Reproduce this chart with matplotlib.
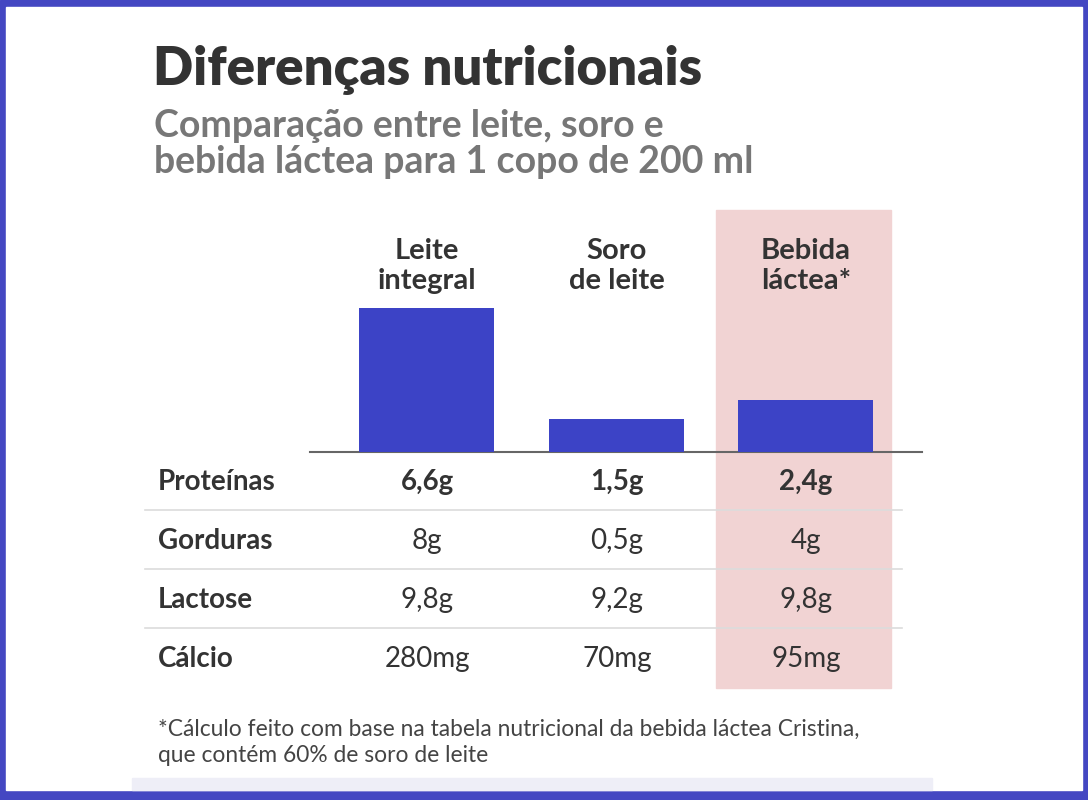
import matplotlib.pyplot as plt
from matplotlib.patches import Rectangle

plt.rcParams['font.family'] = ['Lato', 'DejaVu Sans']

# data
drinks = [['Leite', 'integral'], ['Soro', 'de leite'], ['Bebida', 'láctea*']]
proteinas = [6.6, 1.5, 2.4]
rows = ['Proteínas', 'Gorduras', 'Lactose', 'Cálcio']
table = [
    ['6,6g', '1,5g', '2,4g'],
    ['8g', '0,5g', '4g'],
    ['9,8g', '9,2g', '9,8g'],
    ['280mg', '70mg', '95mg'],
]
title = 'Diferenças nutricionais'
subtitle = ['Comparação entre leite, soro e', 'bebida láctea para 1 copo de 200 ml']
note = ['*Cálculo feito com base na tabela nutricional da bebida láctea Cristina,',
        'que contém 60% de soro de leite']

BLUE = '#3c43c6'
FRAME = '#4447c2'
PINK = '#f1d3d3'
DARK = '#333333'

W, H = 1088, 800
fig = plt.figure(figsize=(W / 100, H / 100), dpi=100)

# background in pixel coords
bg = fig.add_axes([0, 0, 1, 1])
bg.set_xlim(0, W)
bg.set_ylim(H, 0)
bg.axis('off')
bg.add_patch(Rectangle((0, 0), W, H, color=FRAME, zorder=0))
bg.add_patch(Rectangle((6, 7), W - 12, 783, color='white', zorder=1))
bg.add_patch(Rectangle((132, 778), 800, 12, color='#eeeef7', zorder=1))
# highlight for the blended drink
bg.add_patch(Rectangle((716, 210), 175, 478, color=PINK, zorder=2))

bg.text(153, 70, title, fontsize=38, fontweight='heavy', color=DARK,
        va='center', ha='left', zorder=5)
for y, line in zip([126, 162], subtitle):
    bg.text(154, y, line, fontsize=27, fontweight='bold', color='#777777',
            va='center', ha='left', zorder=5)

col_x = [427, 617, 806]
for x, name in zip(col_x, drinks):
    for y, line in zip([251, 281], name):
        bg.text(x, y, line, fontsize=21, fontweight='bold', color=DARK,
                ha='center', va='center', zorder=5)

row_y = [482, 541, 600, 659]
for i, (y, lab) in enumerate(zip(row_y, rows)):
    bg.text(158, y, lab, fontsize=20, fontweight='bold', color=DARK,
            ha='left', va='center', zorder=5)
    for x, val in zip(col_x, table[i]):
        bg.text(x, y, val, fontsize=20, color=DARK, ha='center', va='center',
                fontweight='bold' if i == 0 else 'normal', zorder=5)
    if i < len(rows) - 1:
        bg.plot([145, 902], [y + 28, y + 28], color='#dcdcdc', lw=1.2, zorder=3)

for y, line in zip([729, 756], note):
    bg.text(158, y, line, fontsize=16.4, color='#444444', ha='left', va='center',
            zorder=5)

# bar chart of proteins
x0, x1, base = 310, 922, 452
ax = fig.add_axes([x0 / W, 1 - base / H, (x1 - x0) / W, (base - 210) / H])
ax.patch.set_alpha(0)
pos = range(len(proteinas))
ax.bar(pos, proteinas, width=0.71, color=BLUE, zorder=3)
ax.set_xlim(-0.616, -0.616 + (x1 - x0) / 189.5)
ax.set_ylim(0, (base - 210) / 21.8)
for s in ['top', 'right', 'left']:
    ax.spines[s].set_visible(False)
ax.spines['bottom'].set_color('#666666')
ax.spines['bottom'].set_linewidth(1.5)
ax.set_xticks([])
ax.set_yticks([])

fig.savefig('out.png', dpi=100)
